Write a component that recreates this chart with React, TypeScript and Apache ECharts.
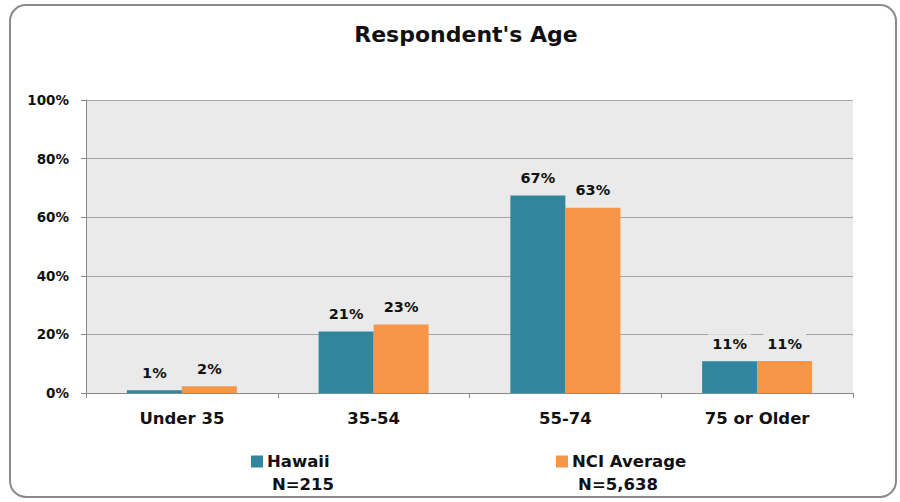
import React, { useEffect, useRef } from "react";
import * as echarts from "echarts";

const categories = ["Under 35", "35-54", "55-74", "75 or Older"];
const hawaii = [0.9, 21.0, 67.4, 10.8];
const nciAverage = [2.3, 23.4, 63.2, 10.9];
const seriesNames = ["Hawaii", "NCI Average"];
const sampleSizes = ["N=215", "N=5,638"];
const yTicks = [0, 20, 40, 60, 80, 100];

const FONT = "DejaVu Sans";

export default function App() {
  const ref = useRef<HTMLDivElement>(null);
  useEffect(() => {
    document.body.style.margin = "0";
    const chart = echarts.init(ref.current!, null, { renderer: "svg" });
    const labelStyle = {
      show: true,
      position: "top" as const,
      distance: 8,
      formatter: (p: any) => Math.round(p.value) + "%",
      fontFamily: FONT,
      fontWeight: "bold" as const,
      fontSize: 14.5,
      color: "#111",
      backgroundColor: "#EAEAEA",
      padding: [2, 4],
    };
    chart.setOption({
      animation: false,
      backgroundColor: "#fff",
      title: {
        text: "Respondent's Age",
        left: 461,
        textAlign: "center",
        top: 18,
        textStyle: { fontFamily: FONT, fontWeight: "bold", fontSize: 22, color: "#111" },
      },
      graphic: [
        {
          type: "rect",
          shape: { x: 10, y: 5, width: 886, height: 492, r: 16 },
          style: { fill: "none", stroke: "#8a8a8a", lineWidth: 2 },
          z: -1,
          silent: true,
        },
        {
          type: "text",
          x: 303,
          y: 484,
          style: {
            text: sampleSizes[0],
            fontFamily: FONT,
            fontWeight: "bold",
            fontSize: 16.5,
            fill: "#111",
            align: "center",
            verticalAlign: "middle",
          },
        },
        {
          type: "text",
          x: 618,
          y: 484,
          style: {
            text: sampleSizes[1],
            fontFamily: FONT,
            fontWeight: "bold",
            fontSize: 16.5,
            fill: "#111",
            align: "center",
            verticalAlign: "middle",
          },
        },
      ],
      legend: [
        {
          data: [seriesNames[0]],
          left: 246,
          top: 448,
          itemWidth: 12,
          itemHeight: 12,
          icon: "rect",
          textStyle: { fontFamily: FONT, fontWeight: "bold", fontSize: 16.5, color: "#111", padding: [0, 0, 0, -1] },
        },
        {
          data: [seriesNames[1]],
          left: 551,
          top: 448,
          itemWidth: 12,
          itemHeight: 12,
          icon: "rect",
          textStyle: { fontFamily: FONT, fontWeight: "bold", fontSize: 16.5, color: "#111", padding: [0, 0, 0, -1] },
        },
      ],
      grid: {
        left: 86,
        right: 47,
        top: 100,
        bottom: 109,
        show: true,
        backgroundColor: "#EAEAEA",
        borderWidth: 0,
      },
      xAxis: {
        type: "category",
        data: categories,
        axisLine: { lineStyle: { color: "#888", width: 1 } },
        axisTick: { show: true, length: 5, lineStyle: { color: "#888" } },
        axisLabel: {
          margin: 17,
          fontFamily: FONT,
          fontWeight: "bold",
          fontSize: 16.5,
          color: "#111",
        },
      },
      yAxis: {
        type: "value",
        min: yTicks[0],
        max: yTicks[yTicks.length - 1],
        interval: 20,
        axisLine: { show: true, lineStyle: { color: "#888", width: 1 } },
        axisTick: { show: true, length: 5, lineStyle: { color: "#888" } },
        splitLine: { lineStyle: { color: "#A6A6A6", width: 1 } },
        axisLabel: {
          margin: 17,
          formatter: (v: number) => v + "%",
          fontFamily: FONT,
          fontWeight: "bold",
          fontSize: 13.5,
          color: "#111",
        },
      },
      series: [
        {
          name: seriesNames[0],
          type: "bar",
          data: hawaii,
          barWidth: 55,
          barGap: "0%",
          itemStyle: { color: "#31859C" },
          label: labelStyle,
        },
        {
          name: seriesNames[1],
          type: "bar",
          data: nciAverage,
          barWidth: 55,
          barGap: "0%",
          itemStyle: { color: "#F79646" },
          label: labelStyle,
        },
      ],
    });
    return () => chart.dispose();
  }, []);
  return <div ref={ref} style={{ width: 900, height: 502 }} />;
}
